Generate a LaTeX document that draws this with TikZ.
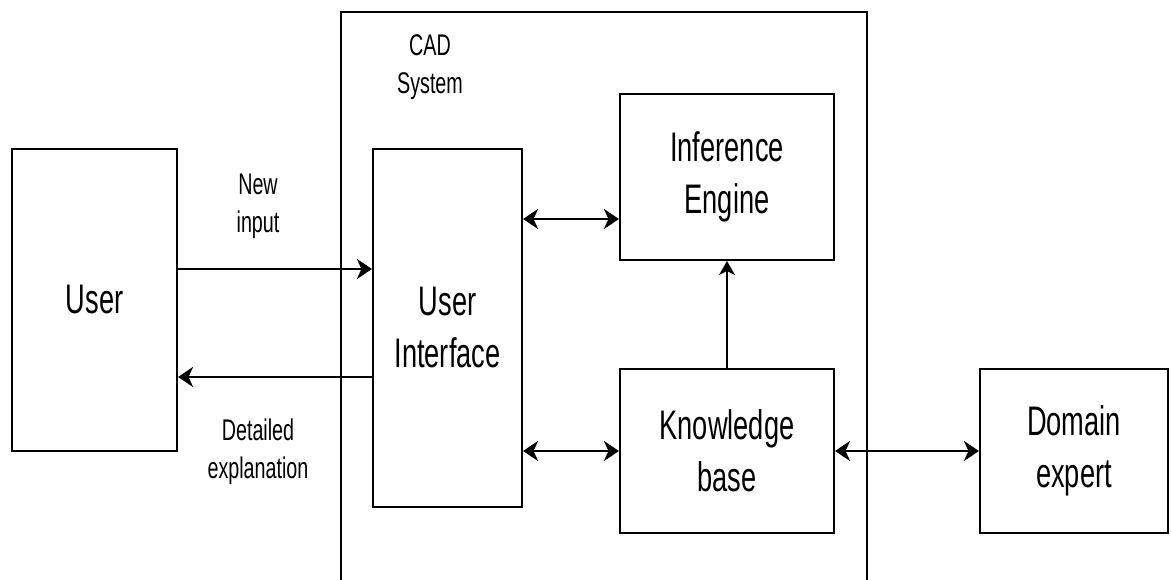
\documentclass[tikz,border=0pt]{standalone}
\usepackage{fontspec}
\setmainfont{Liberation Sans}[FakeStretch=0.66]
\usepackage{tikz}
\usetikzlibrary{arrows.meta}

\tikzset{
  caja/.style={draw, line width=1.2pt, minimum width=#1, inner sep=0pt, align=center,
    font=\fontsize{23.5}{29.6}\selectfont},
  etiqueta/.style={align=center, font=\fontsize{17}{21.6}\selectfont},
  punta/.tip={Stealth[length=0.3cm, width=0.4cm, inset=0.09cm]},
  flecha/.style={line width=1.5pt, -punta},
  dobleflecha/.style={line width=1.5pt, punta-punta}
}

\begin{document}
\begin{tikzpicture}[x=0.02cm, y=-0.02cm]
\useasboundingbox (0,0) rectangle (1171,580);

% Sistema CAD (marco abierto por abajo)
\draw[line width=1.2pt] (341,580) -- (341,12) -- (867,12) -- (867,580);
\node[etiqueta] (cad) at (430,67) {CAD\\System};

% Bloques
\node[caja=3.3cm, minimum height=6.04cm] (user) at (94.5,300) {User};
\node[caja=2.98cm, minimum height=7.16cm] (ui) at (447.5,328) {User\\Interface};
\node[caja=4.28cm, minimum height=3.32cm] (ie) at (727,177) {Inference\\Engine};
\node[caja=4.28cm, minimum height=3.28cm] (kb) at (727,451) {Knowledge\\base};
\node[caja=3.76cm, minimum height=3.28cm] (de) at (1074,451) {Domain\\expert};

% Entrada y salida del usuario
\draw[flecha] (user.east |- 0,269) -- (ui.west |- 0,269);
\draw[flecha] (ui.west |- 0,377) -- (user.east |- 0,377);
\node[etiqueta] (nuevo) at (258,206) {New\\input};
\node[etiqueta] (detalle) at (258,452) {Detailed\\explanation};

% Conexiones internas
\draw[dobleflecha] (ui.east |- 0,219) -- (ie.west |- 0,219);
\draw[dobleflecha] (ui.east |- kb.west) -- (kb.west);
\draw[line width=1pt, -{Stealth[length=0.28cm, width=0.32cm, inset=0.08cm]}] (kb.north) -- (ie.south);
\draw[dobleflecha] (kb.east) -- (de.west);
\end{tikzpicture}
\end{document}
